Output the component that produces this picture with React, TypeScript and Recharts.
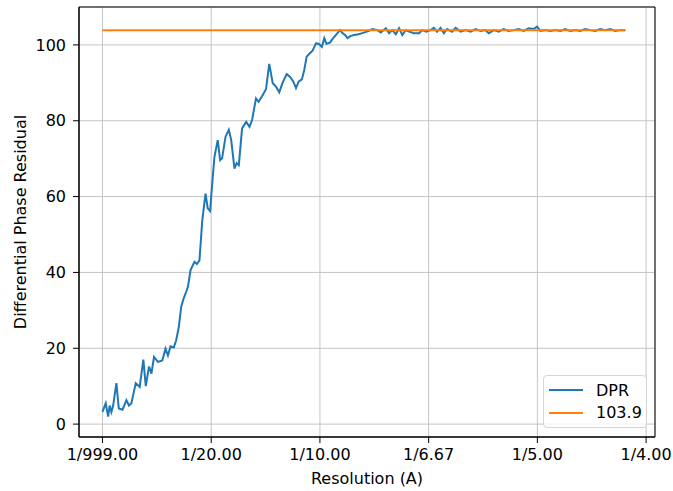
import {
  CartesianGrid,
  Legend,
  Line,
  LineChart,
  ReferenceArea,
  XAxis,
  YAxis,
} from 'recharts';

// spatial frequency (1/A)
const freq = [
  0, 0.0015, 0.0026, 0.0033, 0.0041, 0.0049, 0.0064, 0.0075, 0.0092, 0.011,
  0.0122, 0.0133, 0.0153, 0.0171, 0.0188, 0.0199, 0.0214, 0.0225, 0.0237, 0.0255,
  0.0275, 0.029, 0.0301, 0.0313, 0.0328, 0.0339, 0.0351, 0.0362, 0.0373, 0.0385,
  0.0393, 0.0405, 0.0423, 0.0434, 0.0446, 0.0459, 0.0474, 0.0484, 0.0495, 0.0506,
  0.0515, 0.053, 0.0541, 0.055, 0.0566, 0.0581, 0.0592, 0.0607, 0.0617, 0.0627,
  0.0642, 0.0661, 0.0676, 0.0688, 0.0706, 0.0718, 0.0737, 0.0752, 0.0767, 0.0783,
  0.0798, 0.0813, 0.0828, 0.0847, 0.0862, 0.0878, 0.089, 0.0902, 0.0917, 0.0928,
  0.0939, 0.0954, 0.0966, 0.0982, 0.0994, 0.1009, 0.102, 0.103, 0.1046, 0.1061,
  0.1073, 0.1092, 0.1104, 0.1116, 0.1127, 0.1142, 0.1157, 0.1177, 0.1195, 0.1226,
  0.1241, 0.1264, 0.128, 0.1303, 0.1318, 0.1333, 0.1349, 0.1364, 0.1379, 0.1394,
  0.141, 0.1433, 0.1456, 0.1471, 0.1489, 0.1509, 0.1524, 0.1539, 0.1555, 0.157,
  0.1585, 0.1608, 0.1624, 0.1647, 0.167, 0.1693, 0.1716, 0.1739, 0.1761, 0.1777,
  0.18, 0.1822, 0.1845, 0.1868, 0.1891, 0.1914, 0.1937, 0.196, 0.1983, 0.1998,
  0.2014, 0.2037, 0.206, 0.2083, 0.2106, 0.2128, 0.2151, 0.2174, 0.2197, 0.222,
  0.2243, 0.2266, 0.2289, 0.2312, 0.2335, 0.2358, 0.2381, 0.2405,
];

const dpr = [
  3.2, 5.5, 2.0, 4.9, 3.2, 4.9, 10.8, 4.1, 3.8, 6.3,
  4.9, 5.5, 10.8, 9.8, 17.0, 10.0, 15.2, 13.3, 17.7, 16.4,
  16.8, 19.9, 18.1, 20.5, 20.2, 22.1, 25.6, 30.9, 33.1, 34.9,
  36.2, 40.6, 42.8, 42.2, 43.2, 53.8, 60.8, 56.9, 56.2, 64.4,
  70.5, 74.9, 69.6, 70.1, 75.8, 77.6, 74.9, 67.4, 68.8, 68.3,
  78.0, 79.7, 78.4, 80.2, 85.9, 85.0, 86.8, 88.3, 95.0, 89.9,
  89.0, 87.5, 90.0, 92.3, 91.6, 90.3, 88.6, 90.3, 90.9, 93.4,
  96.9, 97.8, 98.5, 100.4, 100.3, 99.5, 101.8, 100.3, 100.6, 101.8,
  102.6, 103.9, 103.1, 102.6, 101.8, 102.4, 102.6, 102.8, 103.1, 103.7,
  104.2, 103.9, 103.3, 104.4, 103.1, 103.9, 102.8, 104.4, 102.6, 103.9,
  103.5, 103.1, 103.1, 103.9, 103.5, 103.9, 104.5, 103.5, 104.5, 103.1,
  104.2, 103.5, 104.5, 103.5, 103.9, 103.5, 104.2, 103.7, 103.9, 103.1,
  103.9, 103.5, 104.2, 103.7, 103.9, 104.2, 103.7, 104.4, 104.2, 104.8,
  103.7, 103.9, 103.7, 103.9, 103.7, 104.2, 103.7, 103.9, 103.7, 104.2,
  103.9, 103.7, 104.2, 103.9, 104.2, 103.7, 103.9, 103.9,
];

const threshold = 103.9;
const seriesNames = ['DPR', '103.9'];
const xTicks = [0, 0.05, 0.1, 0.15, 0.2, 0.25];
const yTicks = [0, 20, 40, 60, 80, 100];
const xDomain = [-0.0108, 0.2541];
const yDomain = [-3.4, 110];

const data = freq.map((x, i) => ({ x, dpr: dpr[i], cutoff: threshold }));

const FONT = '"DejaVu Sans", sans-serif';
const FS = 16;
const tickStyle = { fill: '#000', fontSize: FS, fontFamily: FONT };

const formatRes = (v: number) => (v === 0 ? '1/999.00' : `1/${(1 / v).toFixed(2)}`);

function LegendBox({ payload }: any) {
  const items = [...(payload || [])].sort(
    (a: any, b: any) => seriesNames.indexOf(a.value) - seriesNames.indexOf(b.value),
  );
  return (
    <div
      style={{
        width: 104,
        height: 53,
        boxSizing: 'border-box',
        border: '1px solid #d6d6d6',
        borderRadius: 4,
        background: 'rgba(255,255,255,0.8)',
        paddingTop: 3,
        paddingLeft: 5,
        fontFamily: FONT,
        fontSize: FS,
        color: '#000',
      }}
    >
      {items.map((e: any) => (
        <div key={e.value} style={{ display: 'flex', alignItems: 'center', height: 22.4 }}>
          <svg height={4} width={34}>
            <line stroke={e.color} strokeWidth={2} x1={0} x2={34} y1={2} y2={2} />
          </svg>
          <span style={{ marginLeft: 13 }}>{e.value}</span>
        </div>
      ))}
    </div>
  );
}

export default function App() {
  return (
    <div style={{ position: 'absolute', left: 0, top: 0, background: '#fff' }}>
      <LineChart
        data={data}
        height={491}
        margin={{ top: 7, right: 18, bottom: 0, left: 0 }}
        width={673}
      >
        <CartesianGrid stroke="#c4c4c4" strokeWidth={1} />
        <XAxis
          allowDataOverflow
          axisLine={{ stroke: '#000' }}
          dataKey="x"
          domain={xDomain}
          height={54}
          label={{
            value: 'Resolution (A)',
            content: () => (
              <text dominantBaseline="central" fill="#000" fontFamily={FONT} fontSize={FS} textAnchor="middle" x={367} y={478}>
                Resolution (A)
              </text>
            ),
          }}
          tick={tickStyle}
          tickFormatter={formatRes}
          tickLine={{ stroke: '#000' }}
          tickMargin={6}
          tickSize={6}
          ticks={xTicks}
          type="number"
        />
        <YAxis
          allowDataOverflow
          axisLine={{ stroke: '#000' }}
          domain={yDomain}
          label={{
            value: 'Differential Phase Residual',
            content: () => (
              <text
                dominantBaseline="central"
                fill="#000"
                fontFamily={FONT}
                fontSize={FS}
                textAnchor="middle"
                transform="rotate(-90 20 222)"
                x={20}
                y={222}
              >
                Differential Phase Residual
              </text>
            ),
          }}
          tick={tickStyle}
          tickLine={{ stroke: '#000' }}
          tickMargin={7}
          tickSize={6}
          ticks={yTicks}
          type="number"
          width={79}
        />
        <ReferenceArea
          fill="none"
          ifOverflow="extendDomain"
          stroke="#000"
          strokeWidth={1}
          x1={xDomain[0]}
          x2={xDomain[1]}
          y1={yDomain[0]}
          y2={yDomain[1]}
        />
        <Line
          dataKey="dpr"
          dot={false}
          isAnimationActive={false}
          name="DPR"
          stroke="#1f77b4"
          strokeWidth={2}
          type="linear"
        />
        <Line
          dataKey="cutoff"
          dot={false}
          isAnimationActive={false}
          name="103.9"
          stroke="#ff7f0e"
          strokeWidth={2}
          type="linear"
        />
        <Legend
          align="center"
          content={LegendBox}
          layout="vertical"
          verticalAlign="middle"
          wrapperStyle={{ left: 543, top: 375, width: 104, height: 53 }}
        />
      </LineChart>
    </div>
  );
}
